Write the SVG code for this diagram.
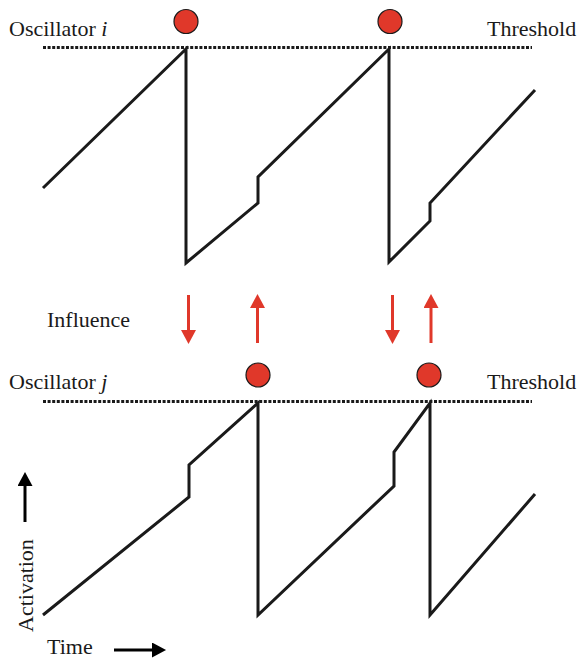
<svg xmlns="http://www.w3.org/2000/svg" width="583" height="659" viewBox="0 0 583 659">
  <style>
    .lbl { font-family: "Liberation Serif", "Times New Roman", serif; font-size: 22px; fill: #1a1a1a; }
    .thr { fill: none; stroke: #1a1a1a; stroke-width: 3; stroke-dasharray: 3 1.6; }
    .wave { fill: none; stroke: #1a1a1a; stroke-width: 3; stroke-linejoin: miter; }
    .spike { fill: #e0382a; stroke: #1a1a1a; stroke-width: 1.2; }
    .infl { stroke: #e0382a; stroke-width: 3; }
    .axis { stroke: #000; stroke-width: 3; }
  </style>
  <defs>
    <marker id="redHead" markerWidth="5" markerHeight="5" refX="0" refY="2.5" orient="auto" markerUnits="strokeWidth">
      <path d="M0,0 L4.7,2.5 L0,5 Z" fill="#e0382a"/>
    </marker>
    <marker id="blackHead" markerWidth="5" markerHeight="5" refX="0" refY="2.5" orient="auto" markerUnits="strokeWidth">
      <path d="M0,0 L4.7,2.5 L0,5 Z" fill="#000"/>
    </marker>
  </defs>

  <!-- Oscillator i -->
  <g id="oscillator-i">
    <text class="lbl" x="9" y="36">Oscillator <tspan font-style="italic">i</tspan></text>
    <text class="lbl" x="487" y="36">Threshold</text>
    <line class="thr" x1="43" y1="47.5" x2="532" y2="47.5"/>
    <polyline class="wave" points="43,188 186,49 186,263 258,203 258,177 389,49 389,262 430,221 430,203 535,90"/>
    <circle class="spike" cx="186" cy="21.5" r="12"/>
    <circle class="spike" cx="390" cy="21.5" r="12"/>
  </g>

  <!-- Oscillator j -->
  <g id="oscillator-j">
    <text class="lbl" x="9" y="389">Oscillator <tspan font-style="italic">j</tspan></text>
    <text class="lbl" x="487" y="389">Threshold</text>
    <line class="thr" x1="43" y1="401.5" x2="532" y2="401.5"/>
    <polyline class="wave" points="43,615 189,497 189,465 258,403 258,615 394,486 394,452 430,403 430,615 535,494"/>
    <circle class="spike" cx="258" cy="375" r="12"/>
    <circle class="spike" cx="429" cy="375" r="12"/>
  </g>

  <!-- Influence arrows between the two oscillators -->
  <g id="influence">
    <text class="lbl" x="47" y="327">Influence</text>
    <g id="connectors">
      <line class="infl" x1="188.5" y1="295" x2="188.5" y2="330" marker-end="url(#redHead)"/>
      <line class="infl" x1="257.5" y1="343" x2="257.5" y2="308" marker-end="url(#redHead)"/>
      <line class="infl" x1="392.5" y1="295" x2="392.5" y2="330" marker-end="url(#redHead)"/>
      <line class="infl" x1="431" y1="343" x2="431" y2="308" marker-end="url(#redHead)"/>
    </g>
  </g>

  <!-- Axes -->
  <g id="axes">
    <line class="axis" x1="25" y1="522" x2="25" y2="486" marker-end="url(#blackHead)"/>
    <text class="lbl" transform="translate(33,632) rotate(-90)">Activation</text>
    <text class="lbl" x="47" y="654">Time</text>
    <line class="axis" x1="114" y1="650" x2="152" y2="650" marker-end="url(#blackHead)"/>
  </g>
</svg>
